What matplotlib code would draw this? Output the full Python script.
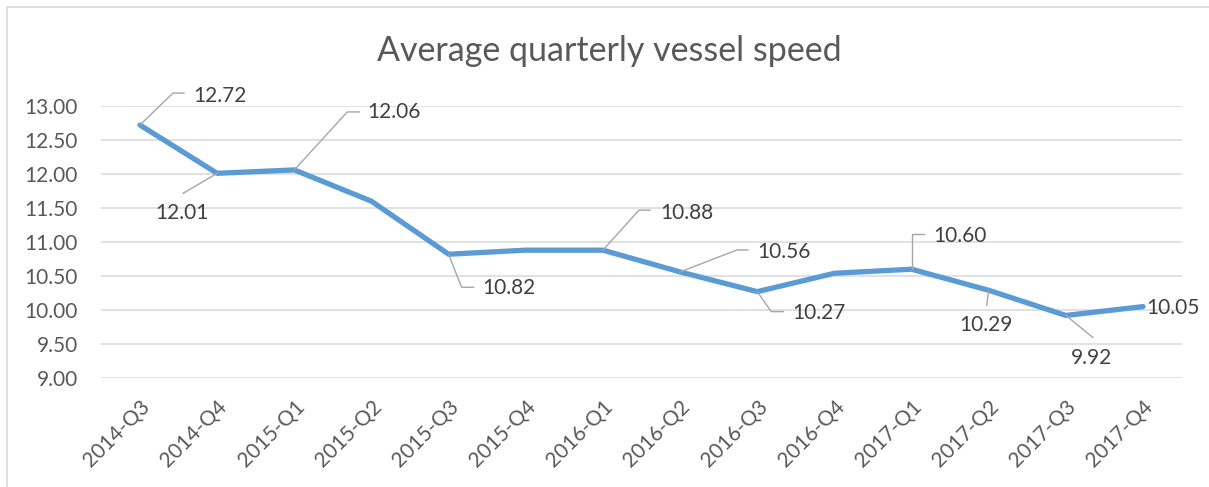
import numpy as np
import matplotlib
matplotlib.use("Agg")
import matplotlib.pyplot as plt
from matplotlib.lines import Line2D
from matplotlib.patches import Rectangle
from matplotlib.transforms import IdentityTransform

plt.rcParams['font.family'] = ['Lato', 'DejaVu Sans']

# ── data ───────────────────────────────────────────────────────────────────
quarters = ["2014-Q3", "2014-Q4", "2015-Q1", "2015-Q2", "2015-Q3", "2015-Q4",
            "2016-Q1", "2016-Q2", "2016-Q3", "2016-Q4", "2017-Q1", "2017-Q2",
            "2017-Q3", "2017-Q4"]
speed = [12.72, 12.01, 12.06, 11.60, 10.82, 10.88, 10.88, 10.56, 10.27,
         10.54, 10.60, 10.29, 9.92, 10.05]
labelled = [0, 1, 2, 4, 6, 7, 8, 10, 11, 12, 13]

# label layout, pixel offsets from the point (x right, y down):
# (leader vertices..., text anchor, ha)
label_layout = {
    0:  ([(33, -32), (44, -32)], (53, -29), "left"),
    1:  ([(-34, 20)], (-35, 40), "center"),
    2:  ([(53, -58), (65, -58)], (73, -58), "left"),
    4:  ([(13, 33), (25, 33)], (34, 34), "left"),
    6:  ([(36, -40), (47, -40)], (57, -37), "left"),
    7:  ([(57, -22), (68, -22)], (77, -20), "left"),
    8:  ([(14, 20), (26, 20)], (35, 21), "left"),
    10: ([(0, -35), (12, -35)], (22, -33), "left"),
    11: ([(-2, 15)], (-3, 35), "center"),
    12: ([(27, 22)], (26, 43), "center"),
    13: ([], (3, 1), "left"),
}

W, H = 1209, 487
fig = plt.figure(figsize=(W / 100, H / 100), dpi=100)
fig.patch.set_facecolor("white")

# chart frame (only left and top edges fall inside the picture)
fig.add_artist(Rectangle((7 / W, -0.2), 1.2, 1.2 - 7 / H,
                         transform=fig.transFigure, fill=False,
                         edgecolor="#D9D9D9", lw=1.2))

ax = fig.add_axes([101.4 / W, 1 - 378 / H, (1181.6 - 101.4) / W, 272 / H])
x = np.arange(len(quarters))
ax.plot(x, speed, color="#5B9BD5", lw=3.8, solid_joinstyle="round",
        solid_capstyle="round", zorder=3)

ax.set_xlim(-0.5, len(quarters) - 0.5)
ax.set_ylim(9, 13)
ax.set_yticks(np.arange(9, 13.01, 0.5))
ax.set_yticklabels([f"{v:.2f}" for v in np.arange(9, 13.01, 0.5)])
ax.set_xticks(x)
ax.set_xticklabels(quarters, rotation=45, ha="right", rotation_mode="anchor")
ax.tick_params(length=0, labelsize=15, colors="#595959")
ax.tick_params(axis="y", pad=17)
ax.tick_params(axis="x", pad=13)
ax.grid(axis="y", color="#D9D9D9", lw=1.1)
ax.set_axisbelow(True)
for s in ax.spines.values():
    s.set_visible(False)

fig.text(609 / W, 1 - 51 / H, "Average quarterly vessel speed",
         ha="center", va="center", fontsize=24.5, color="#595959")

# data labels with leader lines
fig.canvas.draw()
for i in labelled:
    px, py = ax.transData.transform((x[i], speed[i]))
    verts, (tx, ty), ha = label_layout[i]
    if verts:
        xs = [px] + [px + dx for dx, dy in verts]
        ys = [py] + [py - dy for dx, dy in verts]
        fig.add_artist(Line2D(xs, ys, transform=IdentityTransform(),
                              color="#A6A6A6", lw=1.0, zorder=4))
    fig.text(px + tx, py - ty, f"{speed[i]:.2f}", transform=IdentityTransform(),
             ha=ha, va="center", fontsize=15, color="#404040", zorder=5)

fig.savefig("out.png", dpi=100)
